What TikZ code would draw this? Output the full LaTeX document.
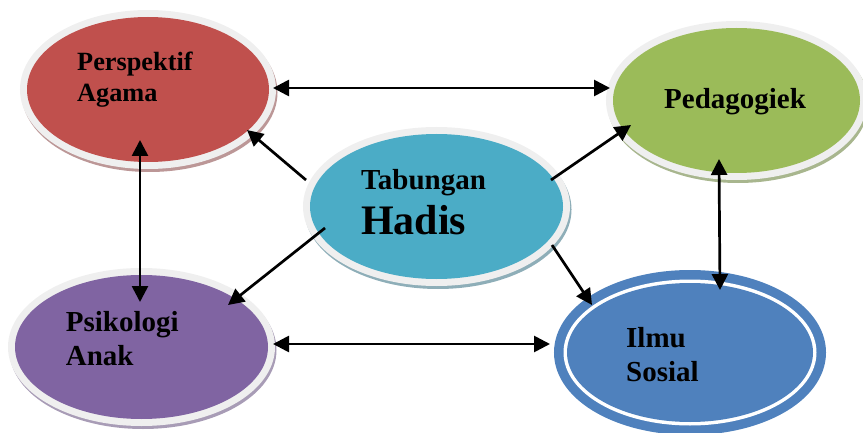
\documentclass[tikz,border=0pt]{standalone}
\usepackage{fontspec}
\setmainfont{Liberation Serif}
\usetikzlibrary{positioning, calc, arrows.meta, shapes.geometric}
\definecolor{xred}{HTML}{C0504D}
\definecolor{xgreen}{HTML}{9BBB59}
\definecolor{xteal}{HTML}{4BACC6}
\definecolor{xpurple}{HTML}{8064A2}
\definecolor{xblue}{HTML}{4F81BD}
\definecolor{xrim}{HTML}{EFEFEF}
\definecolor{xredsh}{HTML}{BC9797}
\definecolor{xgreensh}{HTML}{A8B68E}
\definecolor{xtealsh}{HTML}{8EAEB8}
\definecolor{xpurplesh}{HTML}{A89CB6}
\tikzset{
	arrow/.style={line width=2.7pt, ->, >={Triangle[length=16pt, width=16pt]}},
	biarrow/.style={arrow, <->},
	bubble/.style n args={2}{ellipse, inner sep=0pt, outer sep=0pt, fill=#1,
		preaction={draw=#2, line width=14pt, transform canvas={shift={(1.5pt,-3pt)}}},
		preaction={draw=xrim, line width=14pt}},
	ring/.style={ellipse, inner sep=0pt, outer sep=0pt, fill=#1,
		preaction={draw=#1, line width=26pt},
		preaction={draw=white, line width=7pt}},
	lbl/.style={font=\fontsize{29}{34}\selectfont\bfseries, align=left, inner sep=0pt, anchor=base west},
}

\begin{document}
\begin{tikzpicture}[x=1pt, y=1pt]
	\useasboundingbox (0,0) rectangle (863,432);

	% ellipses
	\node[bubble={xred}{xredsh}, minimum width=242pt, minimum height=145pt] (agama) at (148,342.5) {};
	\node[bubble={xgreen}{xgreensh}, minimum width=247pt, minimum height=145pt] (pedag) at (736.5,331.5) {};
	\node[bubble={xteal}{xtealsh}, minimum width=253pt, minimum height=145pt] (hub) at (436.5,225.5) {};
	\node[bubble={xpurple}{xpurplesh}, minimum width=253pt, minimum height=144pt] (psiko) at (141.5,85) {};
	\node[ring=xblue, minimum width=246pt, minimum height=139pt] (ilmu) at (690,79.5) {};

	% labels (anchored on the last line)
	\node[lbl, font=\fontsize{26.3}{30.7}\selectfont\bfseries] (agamalbl) at (77,330.3) {Perspektif\\Agama};
	\node[lbl] (pedaglbl) at (664,323) {Pedagogiek};
	\node[lbl, font=\fontsize{42}{45.3}\selectfont\bfseries] (hublbl) at (361,197.7) {{\fontsize{29}{34}\selectfont Tabungan}\\Hadis};
	\node[lbl] (psikolbl) at (65.7,67) {Psikologi\\Anak};
	\node[lbl] (ilmulbl) at (626,50.3) {Ilmu\\Sosial};

	% links between the outer ellipses
	\draw[biarrow] ([shift={(125,1.5)}]agama.center) -- ([shift={(-126.5,12.5)}]pedag.center);
	\draw[biarrow] ([shift={(131.5,3)}]psiko.center) -- ([shift={(-140,8.5)}]ilmu.center);
	\draw[biarrow] ([shift={(-8,-50.5)}]agama.center) -- ([shift={(-1.5,45)}]psiko.center);
	\draw[biarrow] ([shift={(-17.5,-58.5)}]pedag.center) -- ([shift={(30,62.5)}]ilmu.center);

	% links from the centre
	\draw[arrow] ([shift={(-130.5,26.5)}]hub.center) -- ([shift={(99,-40.5)}]agama.center);
	\draw[arrow] ([shift={(114.5,26.5)}]hub.center) -- ([shift={(-105.5,-24.5)}]pedag.center);
	\draw[arrow] ([shift={(-111.5,-21.5)}]hub.center) -- ([shift={(86.5,42)}]psiko.center);
	\draw[arrow] ([shift={(115.5,-38.5)}]hub.center) -- ([shift={(-98,47.5)}]ilmu.center);
\end{tikzpicture}
\end{document}
